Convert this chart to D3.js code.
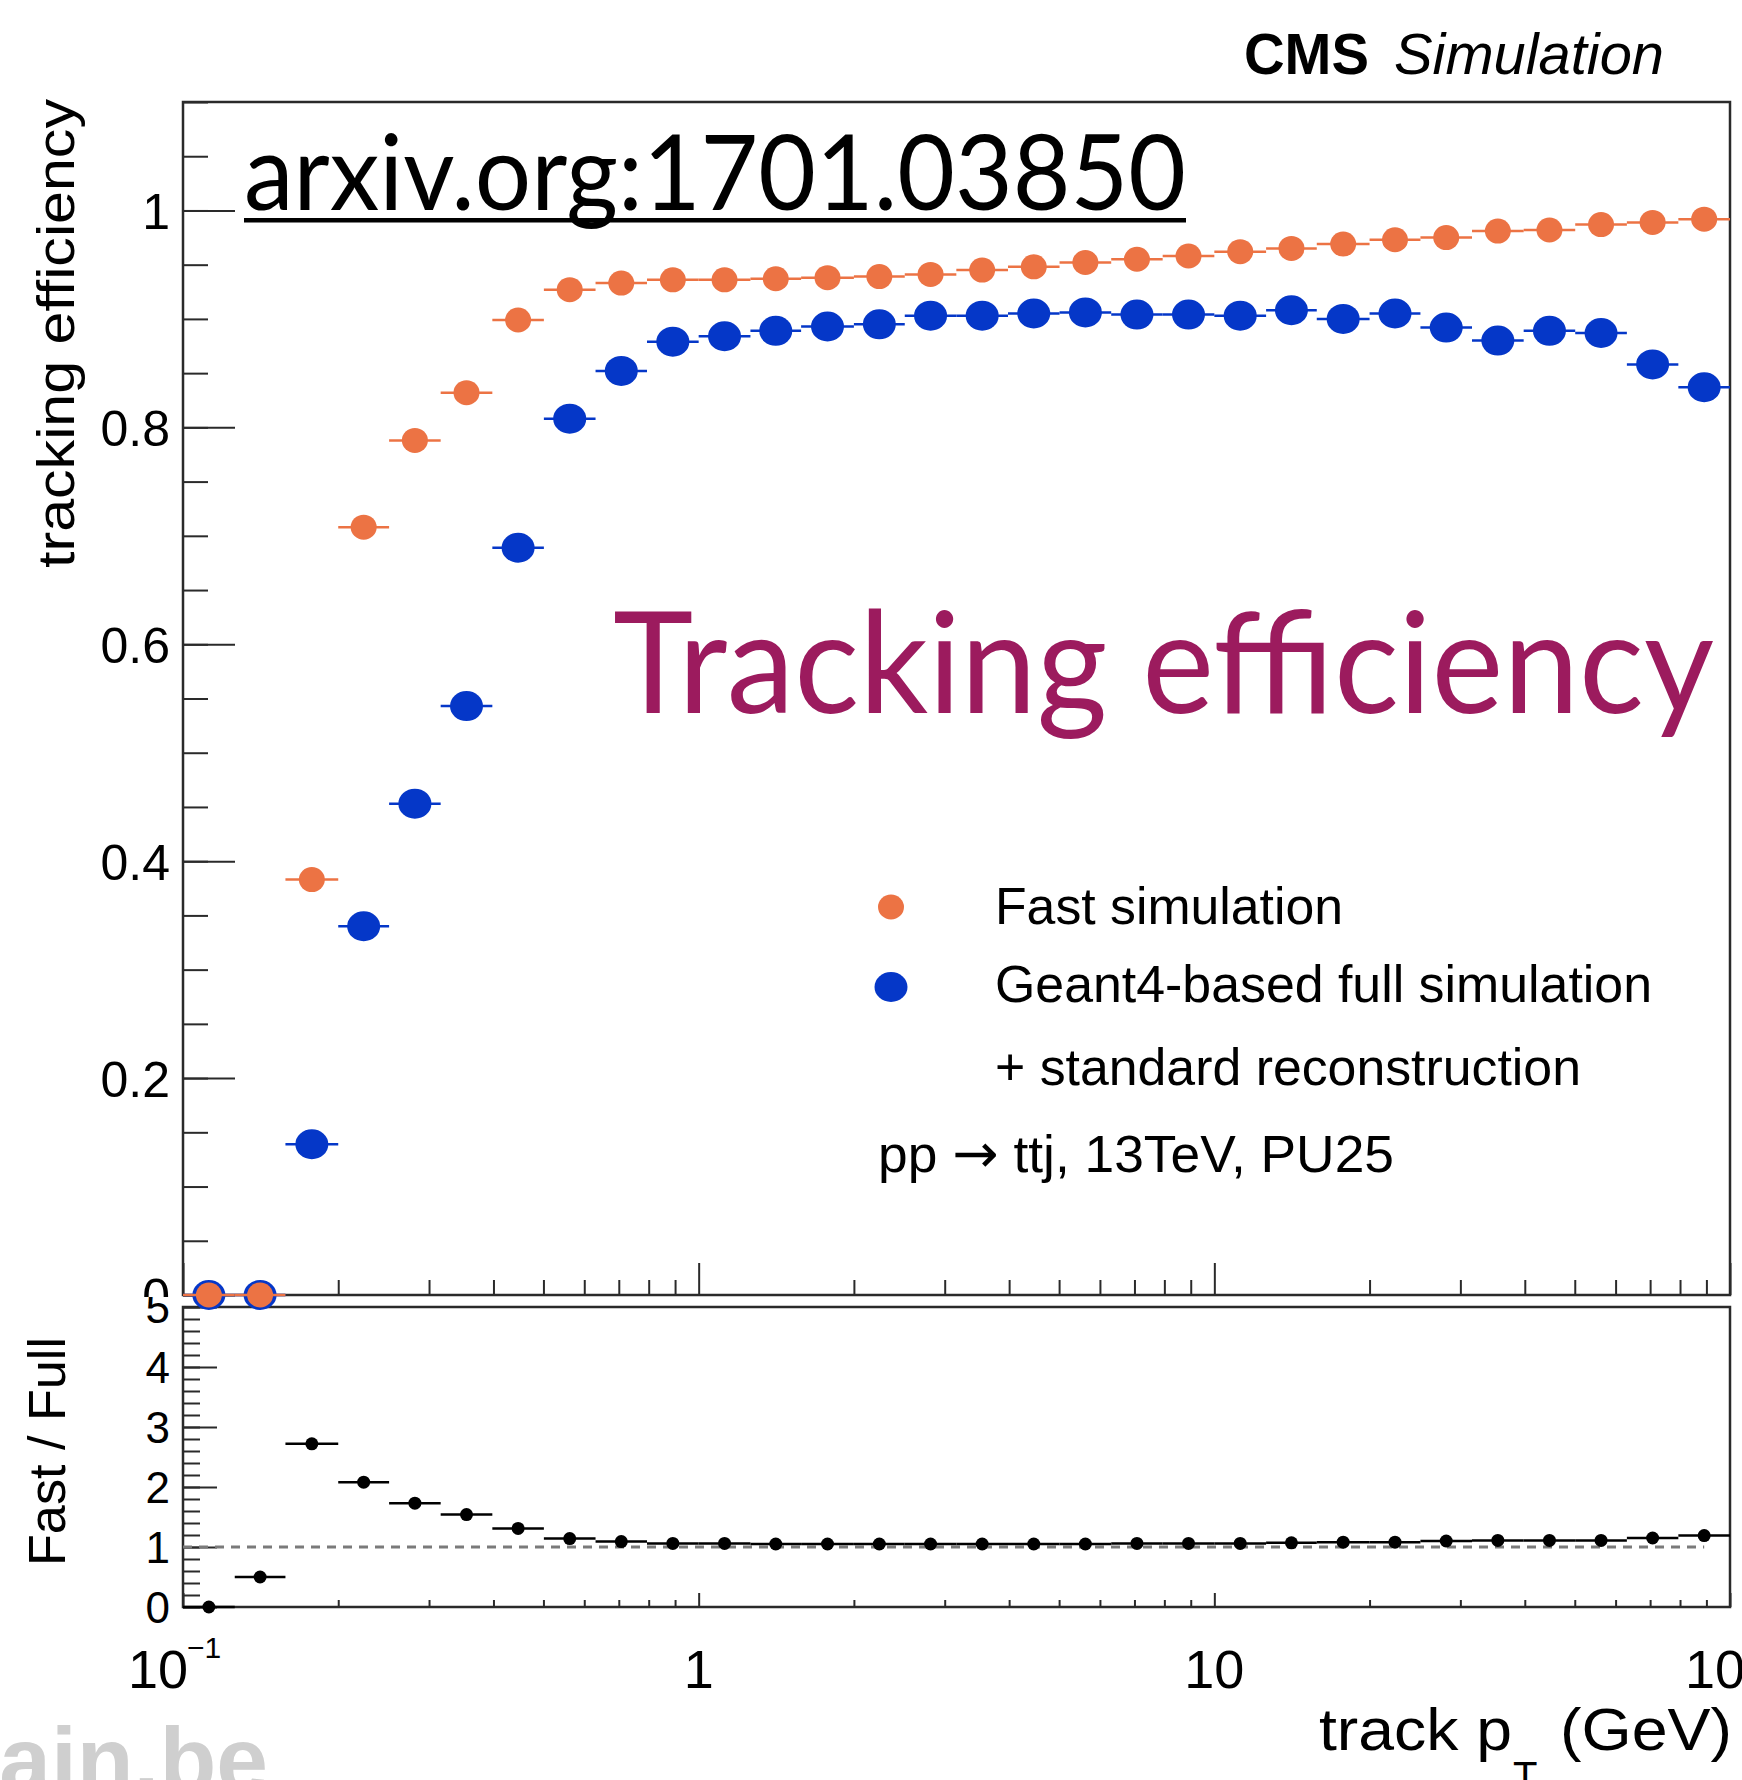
<!DOCTYPE html>
<html>
<head>
<meta charset="utf-8">
<script src="https://cdn.jsdelivr.net/npm/d3@7"></script>
<style>
html,body{margin:0;padding:0;background:#fff;}
svg{display:block;}
</style>
</head>
<body>
<svg id="chart" width="1742" height="1780" xmlns="http://www.w3.org/2000/svg"></svg>
<script>
// ---------------- data ----------------
const ptBinEdges = [0.1, 0.126, 0.158, 0.2, 0.251, 0.316, 0.398, 0.501, 0.631, 0.794,
                    1, 1.26, 1.58, 2, 2.51, 3.16, 3.98, 5.01, 6.31, 7.94,
                    10, 12.6, 15.8, 20, 25.1, 31.6, 39.8, 50.1, 63.1, 79.4, 100];
const fastSimEff = [0, 0, 0.383, 0.708, 0.788, 0.832, 0.899, 0.927, 0.933, 0.936,
                    0.936, 0.937, 0.938, 0.939, 0.941, 0.945, 0.948, 0.952, 0.955, 0.958,
                    0.962, 0.965, 0.969, 0.973, 0.975, 0.981, 0.982, 0.987, 0.989, 0.992];
const fullSimEff = [0, 0, 0.139, 0.340, 0.453, 0.543, 0.689, 0.808, 0.852, 0.879,
                    0.884, 0.889, 0.893, 0.895, 0.903, 0.903, 0.905, 0.906, 0.904, 0.904,
                    0.903, 0.908, 0.900, 0.905, 0.892, 0.880, 0.889, 0.887, 0.858, 0.837];
const fastOverFull = [0, 0.50, 2.72, 2.08, 1.73, 1.54, 1.31, 1.14, 1.09, 1.06,
                      1.06, 1.05, 1.05, 1.05, 1.05, 1.05, 1.05, 1.05, 1.06, 1.06,
                      1.06, 1.07, 1.08, 1.08, 1.10, 1.11, 1.11, 1.11, 1.15, 1.19];
const effMajorTicks = [0, 0.2, 0.4, 0.6, 0.8, 1];
const effTickLabels = ["0", "0.2", "0.4", "0.6", "0.8", "1"];
const ratioMajorTicks = [0, 1, 2, 3, 4, 5];
const ratioTickLabels = ["0", "1", "2", "3", "4", "5"];
const ptMajorTicks = [0.1, 1, 10, 100];
const ptTickLabels = ["10", "1", "10", "100"];
const ptTickExponents = ["\u22121", "", "", ""];
const legendLabels = ["Fast simulation", "Geant4-based full simulation"];
const legendExtraLine = "+ standard reconstruction";
const processParts = ["pp ", "\u2192", " ttj, 13TeV, PU25"];

// ---------------- layout ----------------
const W = 1742, H = 1780;
const L = 183, R = 1730, T1 = 102, B1 = 1295, T2 = 1307, B2 = 1607;
const FONT = "'Liberation Sans', Arial, Helvetica, sans-serif";
const GILL = "Lato, 'Open Sans', sans-serif";
const COL_FAST = "#EC7344", COL_FULL = "#0537C8", AXIS = "#2a2a2a";

const svg = d3.select("#chart");
svg.append("rect").attr("width", W).attr("height", H).attr("fill", "#fff");

const defs = svg.append("defs");
defs.append("clipPath").attr("id", "clipTop").append("rect").attr("x", 0).attr("y", 0).attr("width", W).attr("height", 1297);
defs.append("clipPath").attr("id", "clipBot").append("rect").attr("x", 0).attr("y", 1297).attr("width", W).attr("height", H - 1297);

const x = d3.scaleLog().domain([0.1, 100]).range([L, R]);
const yEff = d3.scaleLinear().domain([0, 1.1]).range([B1, T1]);
const yRat = d3.scaleLinear().domain([0, 5]).range([B2, T2]);

const bins = fastSimEff.map((f, i) => ({
  lo: ptBinEdges[i], hi: ptBinEdges[i + 1],
  c: Math.sqrt(ptBinEdges[i] * ptBinEdges[i + 1]),
  fast: f, full: fullSimEff[i], ratio: fastOverFull[i]
}));

const effMinor = d3.range(0, 1.1001, 0.05);
const ratioMinor = d3.range(0, 5.001, 0.2);
const ptMinor = [];
[0.1, 1, 10].forEach(d => { for (let m = 2; m <= 9; m++) ptMinor.push(d * m); });

function styleAxis(g, fs) {
  g.select(".domain").remove();
  g.selectAll(".tick line").attr("stroke", AXIS).attr("stroke-width", 2);
  g.attr("font-family", FONT).attr("font-size", fs);
  g.selectAll("text").attr("fill", "#000");
}

// ---------------- upper pad axes ----------------
svg.append("g").attr("transform", `translate(${L},0)`)
  .call(d3.axisLeft(yEff).tickValues(effMinor).tickSize(-25).tickFormat(""))
  .call(g => styleAxis(g, 50));
svg.append("g").attr("clip-path", "url(#clipTop)")
  .append("g").attr("transform", `translate(${L},0)`)
  .call(d3.axisLeft(yEff).tickValues(effMajorTicks).tickSize(-52).tickPadding(13)
        .tickFormat((d, i) => effTickLabels[i]))
  .call(g => { styleAxis(g, 50); g.selectAll("text").attr("dy", "0.36em"); });

svg.append("g").attr("transform", `translate(0,${B1})`)
  .call(d3.axisBottom(x).tickValues(ptMinor).tickSize(-15).tickFormat(""))
  .call(g => styleAxis(g, 10));
svg.append("g").attr("transform", `translate(0,${B1})`)
  .call(d3.axisBottom(x).tickValues(ptMajorTicks).tickSize(-32).tickFormat(""))
  .call(g => styleAxis(g, 10));

// ---------------- lower pad axes ----------------
svg.append("g").attr("transform", `translate(${L},0)`)
  .call(d3.axisLeft(yRat).tickValues(ratioMinor).tickSize(-17).tickFormat(""))
  .call(g => styleAxis(g, 44));
svg.append("g").attr("clip-path", "url(#clipBot)")
  .append("g").attr("transform", `translate(${L},0)`)
  .call(d3.axisLeft(yRat).tickValues(ratioMajorTicks).tickSize(-34).tickPadding(13)
        .tickFormat((d, i) => ratioTickLabels[i]))
  .call(g => { styleAxis(g, 44); g.selectAll("text").attr("dy", "0.36em"); });

svg.append("g").attr("transform", `translate(0,${B2})`)
  .call(d3.axisBottom(x).tickValues(ptMinor).tickSize(-7).tickFormat(""))
  .call(g => styleAxis(g, 10));
svg.append("g").attr("transform", `translate(0,${B2})`)
  .call(d3.axisBottom(x).tickValues(ptMajorTicks).tickSize(-14).tickFormat(""))
  .call(g => styleAxis(g, 10));

// x tick labels (below lower pad)
const xl = svg.append("g").attr("font-family", FONT).attr("fill", "#000");
ptMajorTicks.forEach((v, i) => {
  if (ptTickExponents[i]) {
    xl.append("text").attr("x", x(v) + 5).attr("y", 1688).attr("font-size", 54)
      .attr("text-anchor", "end").text(ptTickLabels[i]);
    xl.append("text").attr("x", x(v) + 4).attr("y", 1658).attr("font-size", 30)
      .attr("text-anchor", "start").text(ptTickExponents[i]);
  } else {
    xl.append("text").attr("x", x(v)).attr("y", 1688).attr("font-size", 54)
      .attr("text-anchor", "middle").text(ptTickLabels[i]);
  }
});

// frames
svg.append("rect").attr("x", L).attr("y", T1).attr("width", R - L).attr("height", B1 - T1)
  .attr("fill", "none").attr("stroke", AXIS).attr("stroke-width", 2.5);
svg.append("rect").attr("x", L).attr("y", T2).attr("width", R - L).attr("height", B2 - T2)
  .attr("fill", "none").attr("stroke", AXIS).attr("stroke-width", 2.5);

// ---------------- upper pad data ----------------
function drawSeries(key, col, rx, ry) {
  const g = svg.append("g");
  g.selectAll("line").data(bins).join("line")
    .attr("x1", d => x(d.lo)).attr("x2", d => x(d.hi))
    .attr("y1", d => yEff(d[key])).attr("y2", d => yEff(d[key]))
    .attr("stroke", col).attr("stroke-width", 2.5);
  g.selectAll("ellipse").data(bins).join("ellipse")
    .attr("cx", d => x(d.c)).attr("cy", d => yEff(d[key]))
    .attr("rx", rx).attr("ry", ry).attr("fill", col);
}
drawSeries("full", COL_FULL, 16.5, 15);
drawSeries("fast", COL_FAST, 13, 12.5);

// ---------------- lower pad data ----------------
svg.append("line").attr("x1", x(0.1)).attr("x2", x(bins[bins.length - 1].c))
  .attr("y1", yRat(1)).attr("y2", yRat(1))
  .attr("stroke", "#7a7a7a").attr("stroke-width", 3).attr("stroke-dasharray", "9,7");
const gr = svg.append("g");
gr.selectAll("line").data(bins).join("line")
  .attr("x1", d => x(d.lo)).attr("x2", d => x(d.hi))
  .attr("y1", d => yRat(d.ratio)).attr("y2", d => yRat(d.ratio))
  .attr("stroke", "#000").attr("stroke-width", 2.5);
gr.selectAll("circle").data(bins).join("circle")
  .attr("cx", d => x(d.c)).attr("cy", d => yRat(d.ratio)).attr("r", 6.5).attr("fill", "#000");

// ---------------- legend ----------------
const lg = svg.append("g").attr("font-family", FONT).attr("font-size", 52).attr("fill", "#000");
lg.append("ellipse").attr("cx", 891).attr("cy", 907).attr("rx", 13).attr("ry", 12.5).attr("fill", COL_FAST);
lg.append("ellipse").attr("cx", 891).attr("cy", 987).attr("rx", 16.5).attr("ry", 15).attr("fill", COL_FULL);
lg.append("text").attr("x", 995).attr("y", 924).attr("textLength", 348).attr("lengthAdjust", "spacingAndGlyphs").text(legendLabels[0]);
lg.append("text").attr("x", 995).attr("y", 1002).attr("textLength", 657).attr("lengthAdjust", "spacingAndGlyphs").text(legendLabels[1]);
lg.append("text").attr("x", 995).attr("y", 1085).attr("textLength", 586).attr("lengthAdjust", "spacingAndGlyphs").text(legendExtraLine);
const pt = lg.append("text").attr("x", 878).attr("y", 1172)
  .attr("textLength", 516).attr("lengthAdjust", "spacingAndGlyphs");
pt.append("tspan").text(processParts[0]);
pt.append("tspan").attr("font-family", "'DejaVu Sans', sans-serif").attr("font-size", 54).text(processParts[1]);
pt.append("tspan").text(processParts[2]);

// ---------------- titles ----------------
const tg = svg.append("g").attr("font-family", FONT).attr("fill", "#000");
tg.append("text").attr("x", 1244).attr("y", 74).attr("font-size", 58).attr("font-weight", "bold")
  .attr("textLength", 125).attr("lengthAdjust", "spacingAndGlyphs").text("CMS");
tg.append("text").attr("x", 1394).attr("y", 74).attr("font-size", 58).attr("font-style", "italic")
  .attr("textLength", 270).attr("lengthAdjust", "spacingAndGlyphs").text("Simulation");

tg.append("text").attr("transform", "translate(74,568) rotate(-90)").attr("font-size", 51)
  .attr("textLength", 469).attr("lengthAdjust", "spacingAndGlyphs").text("tracking efficiency");
tg.append("text").attr("transform", "translate(65,1566) rotate(-90)").attr("font-size", 52)
  .attr("textLength", 229).attr("lengthAdjust", "spacingAndGlyphs").text("Fast / Full");

tg.append("text").attr("x", 1319).attr("y", 1750).attr("font-size", 60)
  .attr("textLength", 193).attr("lengthAdjust", "spacingAndGlyphs").text("track p");
tg.append("text").attr("x", 1513).attr("y", 1790).attr("font-size", 40).text("T");
tg.append("text").attr("x", 1560).attr("y", 1750).attr("font-size", 60)
  .attr("textLength", 172).attr("lengthAdjust", "spacingAndGlyphs").text("(GeV)");

// overlays
svg.append("text").attr("x", 244).attr("y", 210).attr("font-family", GILL).attr("font-size", 104)
  .attr("fill", "#000").attr("textLength", 942).attr("lengthAdjust", "spacingAndGlyphs")
  .text("arxiv.org:1701.03850");
svg.append("rect").attr("x", 244).attr("y", 218).attr("width", 942).attr("height", 4.5).attr("fill", "#000");

svg.append("text").attr("x", 613).attr("y", 713).attr("font-family", GILL).attr("font-size", 142)
  .attr("fill", "#9C1B5E").attr("textLength", 1101).attr("lengthAdjust", "spacingAndGlyphs")
  .text("Tracking efficiency");

svg.append("text").attr("x", 268).attr("y", 1792).attr("font-family", FONT).attr("font-size", 93)
  .attr("font-weight", "bold").attr("fill", "#cfcfcf").attr("text-anchor", "end").text("uclouvain.be");
</script>
</body>
</html>
